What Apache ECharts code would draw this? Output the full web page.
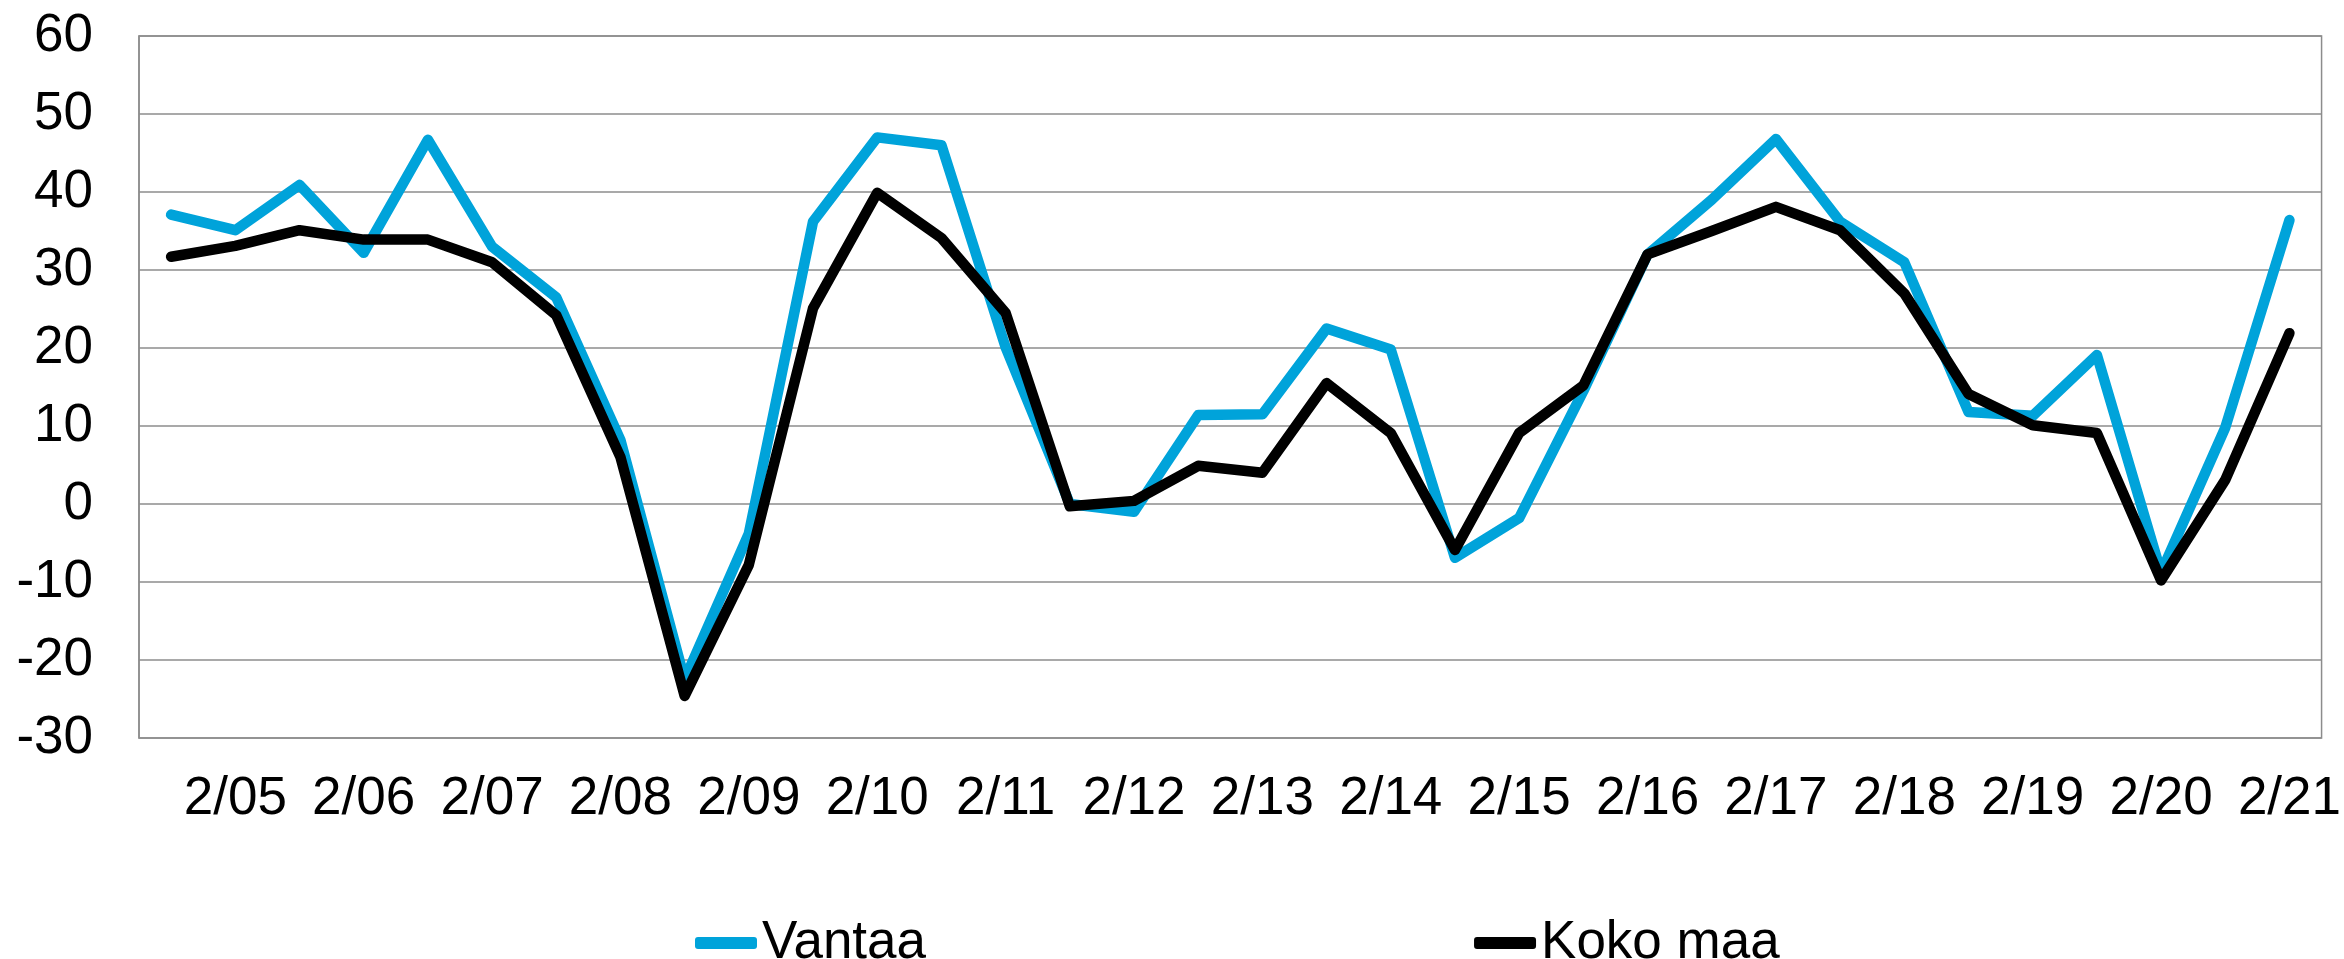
<!DOCTYPE html>
<html>
<head>
<meta charset="utf-8">
<script src="https://cdn.jsdelivr.net/npm/echarts@6/dist/echarts.min.js"></script>
<style>
html,body{margin:0;padding:0;background:#fff;}
#c{width:2344px;height:959px;}
</style>
</head>
<body>
<div id="c"></div>
<script>
// Half-year periods; only the second half of each year is labelled on the axis
var years = ['05','06','07','08','09','10','11','12','13','14','15','16','17','18','19','20','21'];
var periods = [];
years.forEach(function (y) { periods.push('1/' + y); periods.push('2/' + y); });

var seriesNames = ['Vantaa', 'Koko maa'];
var vantaa = [37.1, 35.1, 40.9, 32.2, 46.7, 33.0, 26.5, 8.2, -22.5, -3.8,
              36.2, 47.0, 46.0, 20.1, 0.0, -1.0, 11.4, 11.5, 22.5, 19.8,
              -6.9, -1.8, 14.5, 32.0, 39.0, 46.8, 36.2, 31.0, 11.8, 11.3,
              19.1, -8.8, 9.8, 36.4];
var kokoMaa = [31.7, 33.1, 35.1, 33.9, 33.9, 31.0, 24.2, 6.0, -24.6, -7.8,
               25.1, 39.9, 34.1, 24.5, -0.3, 0.4, 4.9, 4.0, 15.5, 9.1,
               -5.9, 9.1, 15.2, 32.0, 35.0, 38.1, 35.1, 27.0, 14.1, 10.1,
               9.1, -9.8, 3.1, 21.9];

var yMin = -30, yMax = 60, yStep = 10;

var gridColor = '#8c8c8c';
var font = '"Liberation Sans", Arial, sans-serif';

var chart = echarts.init(document.getElementById('c'), null, {renderer: 'canvas'});
chart.setOption({
  animation: false,
  backgroundColor: '#ffffff',
  grid: {left: 139, right: 19, top: 36, bottom: 221, show: true, borderColor: gridColor, borderWidth: 1.5, containLabel: false},
  legend: {
    data: seriesNames,
    left: 690,
    top: 908,
    itemGap: 548,
    itemWidth: 62,
    itemHeight: 12,
    icon: 'roundRect',
    textStyle: {fontFamily: font, fontSize: 53, color: '#000', lineHeight: 60}
  },
  xAxis: {
    type: 'category',
    data: periods,
    boundaryGap: true,
    axisLine: {show: false},
    axisTick: {show: false},
    axisLabel: {
      interval: function (i) { return i % 2 === 1; },
      margin: 35,
      fontFamily: font,
      fontSize: 53,
      color: '#000'
    },
    splitLine: {show: false}
  },
  yAxis: {
    type: 'value',
    min: yMin,
    max: yMax,
    interval: yStep,
    axisLine: {show: true, lineStyle: {color: gridColor, width: 1.5}},
    axisTick: {show: false},
    axisLabel: {margin: 46, fontFamily: font, fontSize: 53, color: '#000'},
    splitLine: {show: true, lineStyle: {color: gridColor, width: 1.5}}
  },
  series: [
    {
      name: seriesNames[0],
      type: 'line',
      data: vantaa,
      symbol: 'none',
      color: '#00a3da',
      lineStyle: {width: 10.5, color: '#00a3da', cap: 'round', join: 'round'}
    },
    {
      name: seriesNames[1],
      type: 'line',
      data: kokoMaa,
      symbol: 'none',
      color: '#000000',
      lineStyle: {width: 10.5, color: '#000000', cap: 'round', join: 'round'}
    }
  ]
});
</script>
</body>
</html>
